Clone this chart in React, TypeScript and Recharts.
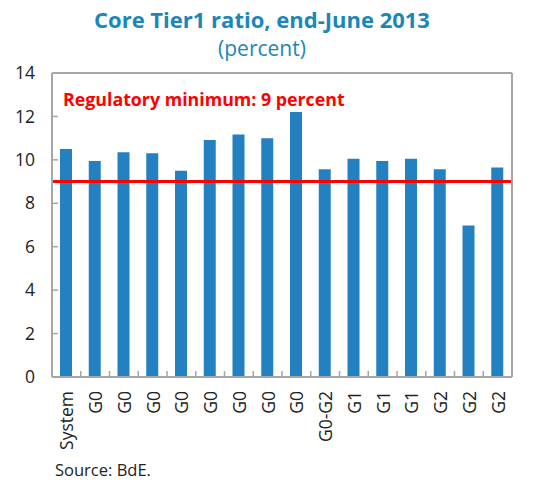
import React from 'react';
import { BarChart, Bar, XAxis, YAxis, ReferenceLine } from 'recharts';

const categories = ['System', 'G0', 'G0', 'G0', 'G0', 'G0', 'G0', 'G0', 'G0', 'G0-G2', 'G1', 'G1', 'G1', 'G2', 'G2', 'G2'];
const ratios = [10.5, 9.95, 10.35, 10.3, 9.5, 10.92, 11.17, 11.0, 12.2, 9.57, 10.05, 9.95, 10.05, 9.57, 6.98, 9.65];
const yTicks = [0, 2, 4, 6, 8, 10, 12, 14];
const regulatoryMin = 9;

const data = categories.map((name, i) => ({ name, value: ratios[i] }));

const FONT = '"Open Sans", "Noto Sans", sans-serif';
const AXIS_GREY = '#a6a6a6';
const BAR_BLUE = '#2381c2';
const TITLE_BLUE = '#1b87b8';
const LABEL_GAP = 14;

const XTick = (props: any) => {
  const { x, y, payload, index, width, visibleTicksCount } = props;
  const step = width / visibleTicksCount;
  const axisY = y - LABEL_GAP;
  return (
    <g>
      {index > 0 && (
        <line x1={x - step / 2} x2={x - step / 2} y1={axisY} y2={axisY - 6} stroke={AXIS_GREY} strokeWidth={1.5} />
      )}
      <text
        x={x}
        y={y}
        transform={`rotate(-90, ${x}, ${y})`}
        textAnchor="end"
        dominantBaseline="central"
        fontSize={17.5}
        fontFamily={FONT}
        fill="#222"
      >
        {payload.value}
      </text>
    </g>
  );
};

export default function App() {
  return (
    <div style={{ position: 'absolute', left: 0, top: 0, width: 551, height: 480, background: '#fff', fontFamily: FONT }}>
      <div style={{ position: 'absolute', left: 0, width: 524, top: 6, textAlign: 'center', fontSize: 22, lineHeight: '26px', fontWeight: 700, color: TITLE_BLUE }}>
        Core Tier1 ratio, end-June 2013
      </div>
      <div style={{ position: 'absolute', left: 0, width: 524, top: 36, textAlign: 'center', fontSize: 21, lineHeight: '24px', color: TITLE_BLUE }}>
        (percent)
      </div>
      <BarChart width={551} height={480} data={data} margin={{ top: 73, right: 0, left: 0, bottom: 0 }}>
        <XAxis
          dataKey="name"
          interval={0}
          height={103}
          tickSize={0}
          tickMargin={LABEL_GAP}
          tick={<XTick />}
          axisLine={{ stroke: AXIS_GREY, strokeWidth: 2 }}
          tickLine={false}
        />
        <YAxis
          yAxisId="left"
          orientation="left"
          width={52}
          domain={[0, 14]}
          ticks={yTicks}
          interval={0}
          tickSize={-6}
          tickMargin={23}
          axisLine={{ stroke: AXIS_GREY, strokeWidth: 2 }}
          tickLine={{ stroke: AXIS_GREY, strokeWidth: 1.5 }}
          tick={{ fill: '#222', fontSize: 17.5, fontFamily: FONT }}
        />
        <YAxis
          yAxisId="right"
          orientation="right"
          width={39}
          domain={[0, 14]}
          ticks={yTicks}
          interval={0}
          tickSize={-6}
          tickMargin={24}
          axisLine={{ stroke: AXIS_GREY, strokeWidth: 2 }}
          tickLine={{ stroke: AXIS_GREY, strokeWidth: 1.5 }}
          tick={{ fill: '#222', fontSize: 17.5, fontFamily: FONT }}
        />
        <ReferenceLine yAxisId="left" y={14} stroke={AXIS_GREY} strokeWidth={2} />
        <Bar yAxisId="left" dataKey="value" fill={BAR_BLUE} barSize={12} isAnimationActive={false} />
        <ReferenceLine yAxisId="left" y={regulatoryMin} stroke="#ff0000" strokeWidth={3} />
      </BarChart>
      <div style={{ position: 'absolute', left: 63, top: 87.5, fontSize: 17.8, lineHeight: '22px', fontWeight: 700, color: '#ff0000' }}>
        Regulatory minimum: 9 percent
      </div>
      <div style={{ position: 'absolute', left: 55, top: 459, fontSize: 16.5, lineHeight: '22px', color: '#222' }}>
        Source: BdE.
      </div>
    </div>
  );
}
